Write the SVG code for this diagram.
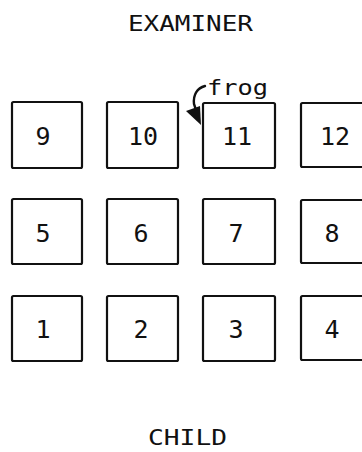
<svg xmlns="http://www.w3.org/2000/svg" width="362" height="452" viewBox="0 0 362 452">
<style>
.box{fill:none;stroke:#111;stroke-width:2.2;stroke-linejoin:round}
.num{font-family:"DejaVu Sans Mono","Liberation Mono",monospace;font-size:25px;fill:#111;text-anchor:middle}
.lbl{font-family:"DejaVu Sans Mono","Liberation Mono",monospace;font-size:22px;fill:#111}
.conn{fill:none;stroke:#111;stroke-width:2.4;stroke-linecap:round}
</style>
<rect width="362" height="452" fill="#fff"/>
<text class="lbl" x="128" y="31" textLength="125" lengthAdjust="spacingAndGlyphs">EXAMINER</text>
<text class="lbl" x="148" y="445" font-size="21" textLength="79" lengthAdjust="spacingAndGlyphs">CHILD</text>
<text class="lbl" x="207" y="95" textLength="61" lengthAdjust="spacingAndGlyphs">frog</text>
<g id="n9"><rect class="box" x="12" y="102" width="70" height="66" rx="1.5"/><text class="num" x="43" y="145">9</text></g>
<g id="n10"><rect class="box" x="107" y="102" width="71" height="66" rx="1.5"/><text class="num" x="143" y="145">10</text></g>
<g id="n11"><rect class="box" x="203" y="103" width="72" height="65" rx="1.5"/><text class="num" x="237" y="145">11</text></g>
<g id="n12"><rect class="box" x="301" y="103" width="72" height="64" rx="1.5"/><text class="num" x="335" y="145">12</text></g>
<g id="n5"><rect class="box" x="12" y="199" width="70" height="65" rx="1.5"/><text class="num" x="43" y="242">5</text></g>
<g id="n6"><rect class="box" x="107" y="199" width="71" height="65" rx="1.5"/><text class="num" x="141" y="242">6</text></g>
<g id="n7"><rect class="box" x="203" y="199" width="72" height="65" rx="1.5"/><text class="num" x="236" y="242">7</text></g>
<g id="n8"><rect class="box" x="301" y="200" width="72" height="63" rx="1.5"/><text class="num" x="332" y="242">8</text></g>
<g id="n1"><rect class="box" x="12" y="296" width="70" height="65" rx="1.5"/><text class="num" x="43" y="338">1</text></g>
<g id="n2"><rect class="box" x="107" y="296" width="71" height="65" rx="1.5"/><text class="num" x="141" y="338">2</text></g>
<g id="n3"><rect class="box" x="203" y="296" width="72" height="65" rx="1.5"/><text class="num" x="236" y="338">3</text></g>
<g id="n4"><rect class="box" x="301" y="296" width="72" height="64" rx="1.5"/><text class="num" x="332" y="338">4</text></g>
<g id="connectors">
<path class="conn" d="M205,86 C197,88 193,95 194,104 L196,110"/>
<polygon points="186,111 200,106 201,125" fill="#111"/>
</g>
</svg>
